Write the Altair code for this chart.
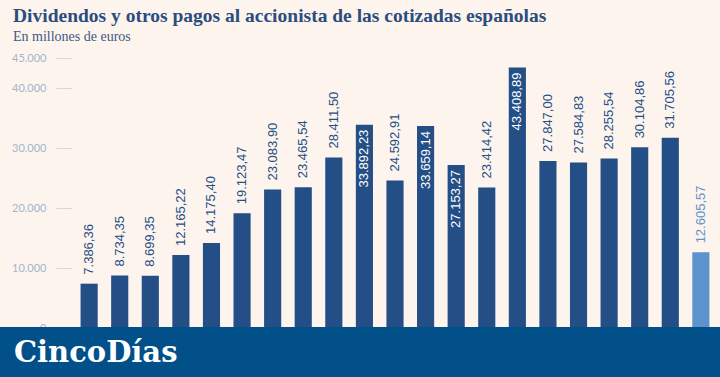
import altair as alt
import pandas as pd

# Datos (millones de euros)
anios = [str(a) for a in range(2004, 2025)]
valores = [7386.36, 8734.35, 8699.35, 12165.22, 14175.40, 19123.47, 23083.90,
           23465.54, 28411.50, 33892.23, 24592.91, 33659.14, 27153.27, 23414.42,
           43408.89, 27847.00, 27584.83, 28255.54, 30104.86, 31705.56, 12605.57]
tipo = ["Año completo"] * 20 + ["Parcial"]
etiqueta_dentro = [False, False, False, False, False, False, False, False, False, True,
                   False, True, True, False, True, False, False, False, False, False, False]
ticks_y = [0, 10000, 20000, 30000, 40000, 45000]


def fmt_es(v):
    return f"{v:,.2f}".replace(",", "X").replace(".", ",").replace("X", ".")


df = pd.DataFrame({
    "anio": anios,
    "valor": valores,
    "tipo": tipo,
    "dentro": etiqueta_dentro,
    "texto": [fmt_es(v) for v in valores],
})

OSCURO = "#234e86"
CLARO = "#5b93cc"
BANNER = "#01508a"
FONDO = "#fdf4ee"

x_enc = alt.X("anio:O", axis=None,
              scale=alt.Scale(paddingInner=0.44, paddingOuter=0.28))
y_enc = alt.Y("valor:Q",
              scale=alt.Scale(domain=[0, 45000], nice=False),
              axis=alt.Axis(values=ticks_y, title=None, domain=False, grid=False,
                            tickSize=16, tickColor="#cfd7e3", tickWidth=1,
                            labelPadding=10, labelColor="#a3b4cf",
                            labelFont="Lato", labelFontSize=11,
                            labelExpr="replace(format(datum.value, ',.0f'), ',', '.')"))

base = alt.Chart(df).encode(x=x_enc, y=y_enc)

barras = base.mark_bar().encode(
    color=alt.Color("tipo:N", legend=None,
                    scale=alt.Scale(domain=["Año completo", "Parcial"], range=[OSCURO, CLARO]))
)

etq_fuera = base.transform_filter("!datum.dentro").mark_text(
    angle=270, align="left", baseline="middle", dx=9,
    font="Liberation Sans", fontSize=13
).encode(
    text="texto:N",
    color=alt.Color("tipo:N", legend=None,
                    scale=alt.Scale(domain=["Año completo", "Parcial"], range=["#1e3f6e", CLARO]))
)

etq_dentro = base.transform_filter("datum.dentro").mark_text(
    angle=270, align="right", baseline="middle", dx=-5,
    font="Liberation Sans", fontSize=13, color="white"
).encode(text="texto:N")

marca_df = pd.DataFrame({"marca": ["CincoDías"]})
banner = alt.Chart(marca_df).mark_rect(color=BANNER).encode(
    x=alt.value(-72), x2=alt.value(648), y=alt.value(269), y2=alt.value(325)
)
logo = alt.Chart(marca_df).mark_text(
    align="left", baseline="alphabetic", font="DejaVu Serif", fontWeight="bold",
    fontSize=29, color="white"
).encode(x=alt.value(-58), y=alt.value(304), text="marca:N")

chart = alt.layer(barras, etq_fuera, etq_dentro, banner, logo).properties(
    width=646, height=270,
    background=FONDO,
    padding={"left": 72, "top": 58, "right": 2, "bottom": 49},
    autosize=alt.AutoSizeParams(type="none"),
    title=alt.Title(
        "Dividendos y otros pagos al accionista de las cotizadas españolas",
        subtitle="En millones de euros",
        anchor="start", frame="group", dx=-59, offset=7,
        font="Liberation Serif", fontSize=19.5, fontWeight="bold", color="#2b4d7e",
        subtitleFont="Liberation Serif", subtitleFontSize=14, subtitleColor="#3d5a84",
        subtitlePadding=4,
    ),
).configure_view(stroke=None)

chart.save("out.html", embed_options={"renderer": "svg", "actions": False})
